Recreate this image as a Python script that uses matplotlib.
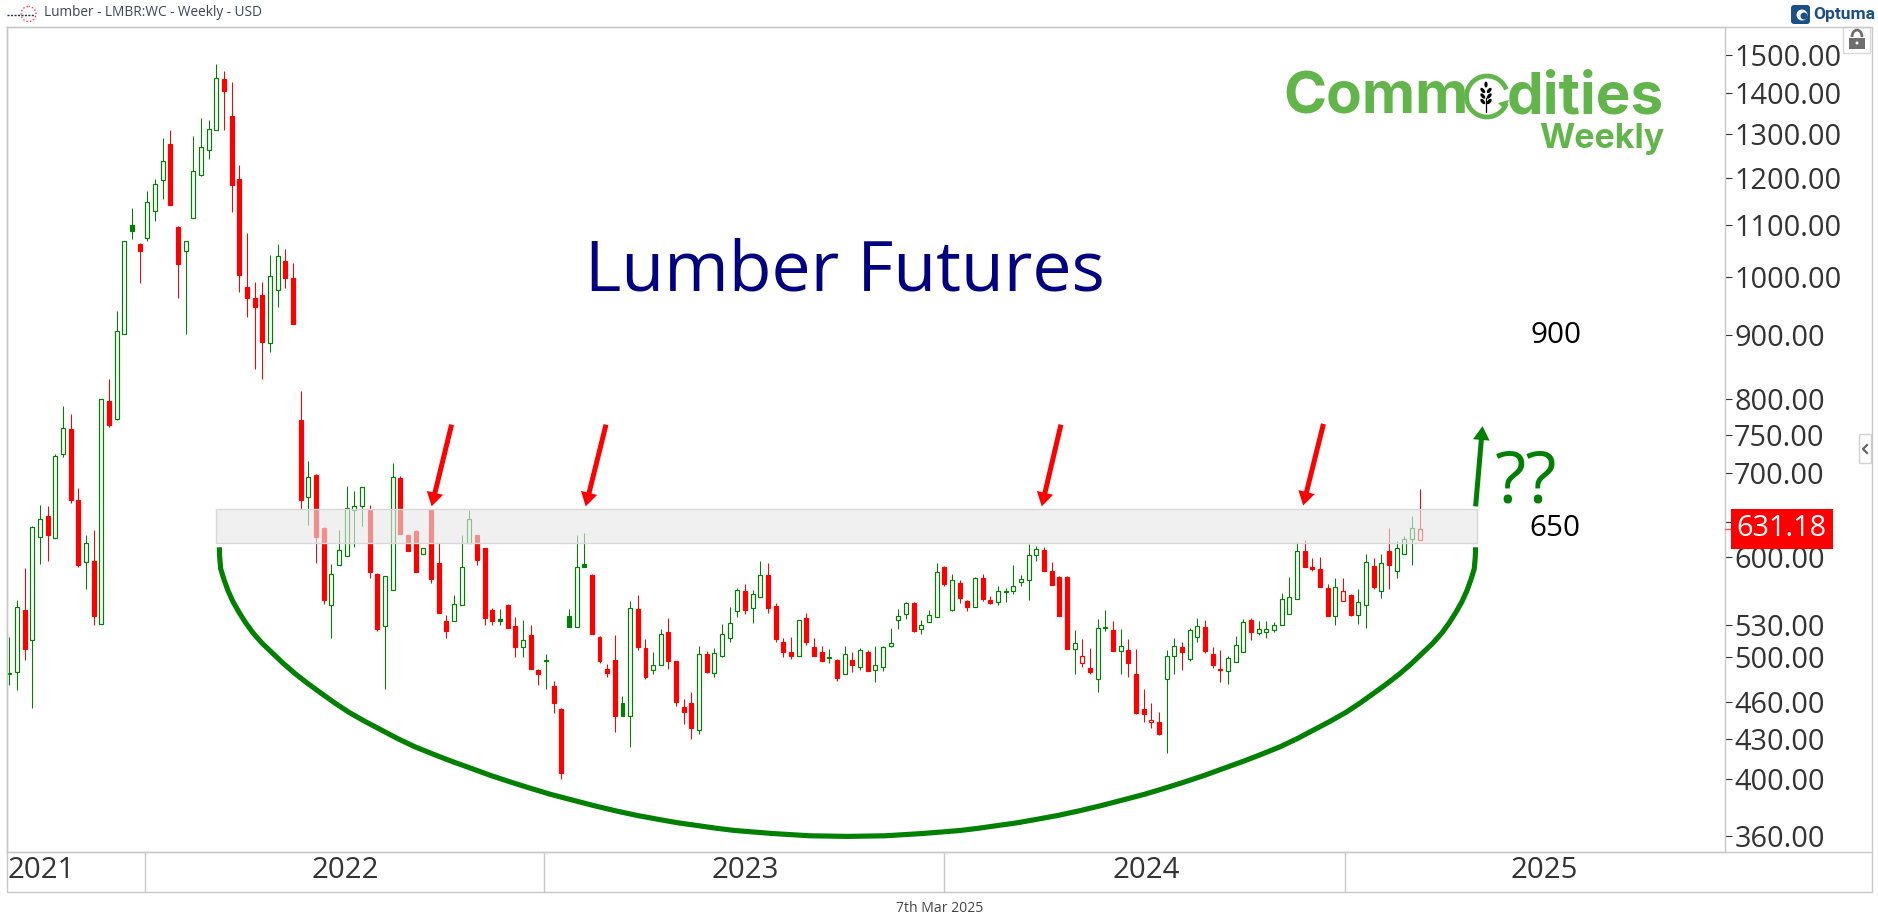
import matplotlib
matplotlib.use("Agg")
import matplotlib.pyplot as plt
from matplotlib.patches import Rectangle, Circle, Ellipse, Arc, FancyBboxPatch, Polygon
from matplotlib.ticker import NullLocator

# ---------- data ----------
candle_style = ("Ggrggrggrr" "grgrggGrgg" "grrgggggrr" "rrrrggrrrg" "rrgggggrrg"
                "grrrgrrrgg" "grrrGrrgrr" "GrrGgGrrrr" "Ggrrggrrrr" "grggggrggr"
                "rrrgrrrGrg" "rgrgggggrg" "ggrgrrgrrg" "Gggggrrrrg" "RrgGrgrrrR"
                "rggrggrrrg" "ggrggggggr" "rrrgRrggrg" "rgggR")

high = [518,555,588,635,660,658,724,790,779,680,
        624,630,801,831,940,1068,1136,1064,1172,1197,
        1289,1310,1099,1068,1294,1337,1332,1478,1459,1430,
        1229,1085,992,992,1041,1062,1054,1026,812,715,
        698,634,592,630,683,677,682,660,583,579,
        712,695,625,630,610,654,615,540,560,625,
        654,625,610,546,545,550,538,535,530,489,
        502,478,455,545,625,627,581,519,493,520,
        465,554,560,516,504,526,537,496,463,469,
        510,505,508,531,547,567,571,565,596,593,
        551,517,518,535,542,517,510,507,498,510,
        504,508,506,510,510,527,545,553,553,535,
        544,593,590,582,575,555,578,581,559,569,
        567,591,580,614,612,611,594,579,579,525,
        516,508,536,544,534,526,516,507,471,459,
        452,506,517,514,527,537,535,509,506,501,
        519,536,537,534,534,533,562,578,617,619,
        599,600,571,577,577,561,566,603,599,603,
        633,618,623,646,679]

body_top = [485,547,544,634,643,647,721,760,758,666,
            615,595,801,798,907,1068,1101,1062,1148,1187,
            1237,1277,1097,1068,1215,1269,1312,1440,1438,1344,
            1197,983,963,969,1003,1039,1031,998,771,694,
            697,633,581,608,656,658,682,654,582,579,
            694,693,624,629,610,654,593,534,550,589,
            643,624,610,544,536,549,529,515,520,488,
            497,474,454,539,589,592,580,518,489,497,
            459,546,545,508,492,521,523,496,456,459,
            502,502,503,521,532,565,564,561,580,580,
            548,514,504,535,537,509,504,500,497,502,
            497,506,504,492,509,513,539,552,551,530,
            540,584,589,575,572,554,577,577,555,564,
            564,569,576,602,609,608,585,578,578,513,
            501,490,527,528,525,510,506,484,454,445,
            444,501,510,509,525,529,528,502,489,499,
            511,533,535,526,526,530,556,558,607,606,
            589,587,567,568,564,560,553,594,590,593,
            606,610,620,633,631.18]

body_bottom = [484,486,507,515,622,624,621,724,666,591,
               594,539,531,764,772,902,1088,1050,1074,1128,
               1195,1142,1024,1049,1114,1205,1263,1309,1407,1183,
               1005,963,948,888,887,978,998,918,666,669,
               622,555,549,591,601,654,659,584,526,529,
               565,626,607,584,603,576,542,524,534,549,
               615,597,537,534,534,527,509,509,489,484,
               496,459,404,528,528,589,521,496,485,449,
               449,449,509,482,488,492,496,460,452,439,
               437,486,485,501,517,543,544,546,558,546,
               516,504,501,501,514,501,496,499,481,484,
               492,491,487,488,491,510,535,541,524,526,
               533,538,571,544,557,547,547,556,552,553,
               563,564,573,575,602,585,570,539,507,507,
               494,486,480,527,505,505,494,451,450,444,
               434,480,501,504,498,518,505,492,488,487,
               495,504,523,522,523,525,530,541,556,589,
               587,568,539,539,554,540,540,549,568,564,
               591,585,603,620,619]

low = [475,470,497,455,592,596,621,720,662,589,
       566,530,531,761,770,902,1073,990,1069,1108,
       1155,1142,963,901,1114,1203,1242,1309,1310,1126,
       974,930,846,830,872,947,980,918,655,636,
       593,550,517,591,601,611,635,577,524,471,
       565,626,607,584,603,572,542,517,534,549,
       615,591,530,530,530,527,500,500,489,475,
       471,451,400,528,528,589,521,494,482,436,
       449,424,506,480,484,492,489,457,442,430,
       434,485,482,500,514,538,541,532,558,542,
       514,500,498,501,511,501,496,494,478,484,
       486,488,487,477,487,509,526,536,523,521,
       533,538,569,543,551,543,547,554,550,549,
       553,561,569,555,596,585,570,539,507,484,
       491,484,469,524,505,484,482,450,444,439,
       433,419,484,488,496,514,503,490,477,476,
       495,504,515,520,517,523,530,541,556,589,
       585,568,539,530,554,539,531,527,566,557,
       566,577,603,591,619]

price_ticks = [1500,1400,1300,1200,1100,1000,900,800,750,700,600,530,500,460,430,400,360]
hidden_tick = 640
last_price = 631.18
year_labels = ["2021","2022","2023","2024","2025"]
year_label_weeks = [4.2,43.8,96.0,148.3,200.3]
year_start_weeks = [17.7,69.7,121.9,174.2]

band_low, band_high = 615.5, 655
bowl_weeks = [27.4,27.45,27.58,28.01,28.53,29.18,29.97,30.82,31.79,32.97,34.4,35.77,37.27,38.97,40.76,42.49,
              44.32,46.4,48.5,50.65,52.93,55.34,57.69,60.3,62.71,65.51,67.93,70.6,73.34,76.21,79.21,81.95,
              84.56,87.17,89.78,92.39,94.67,99.57,104.46,109.35,114.24,119.13,124.03,126.31,128.92,131.53,
              134.14,136.75,139.49,142.49,145.36,148.1,150.77,153.19,155.99,158.4,161.01,163.36,165.77,
              168.05,170.2,172.3,174.38,176.21,177.94,179.73,181.43,182.93,184.3,185.73,186.91,187.88,
              188.73,189.52,190.17,190.69,191.12,191.25,191.3]
bowl_prices = [610.6,599.2,587,575.6,564.1,552.9,542.2,532.1,522.2,512.5,502.8,493.7,484.8,475.9,467.3,459.3,
               451.6,444.2,437.4,430.5,424,418.3,413,407.6,402.6,397.4,393.2,388.8,384.9,380.9,377.1,374,
               371.5,369.1,367.2,365.3,363.9,361.9,360.4,360,360.4,361.9,363.9,365.3,367.2,369.1,
               371.5,374,377.1,380.9,384.9,388.8,393.2,397.4,402.6,407.6,413,418.3,424,
               430.5,437.4,444.2,451.6,459.3,467.3,475.9,484.8,493.7,502.8,512.5,522.2,532.1,
               542.2,552.9,564.1,575.6,587,599.2,610.6]
red_arrow_tails = [(57.7,764),(77.85,764),(137.2,764),(171.45,765)]
red_arrow_tips = [(55.1,658),(75.2,658),(134.7,658),(168.8,659)]
green_arrow = [(191.3,658),(192.2,762)]

W, H = 1878, 924
GREEN, RED = "#008000", "#ff0000"
GRID = "#c8c8c8"
TXT = "#333333"
FONT = "Open Sans"
plt.rcParams["font.family"] = [FONT, "DejaVu Sans"]

fig = plt.figure(figsize=(W/100, H/100), dpi=100, facecolor="white")
L, R, T, B = 6.5, 1724.5, 26.5, 851.5
ax = fig.add_axes([L/W, 1-B/H, (R-L)/W, (B-T)/H])
ax.set_yscale("log")
px = 7.665
ax.set_xlim((L-9.3)/px, (R-9.3)/px)
ax.set_ylim(350.2, 1581.6)

for s in ax.spines.values():
    s.set_color(GRID); s.set_linewidth(1.0)
ax.yaxis.tick_right()
ax.yaxis.set_minor_locator(NullLocator())
ax.set_xticks([])
ax.set_yticks(price_ticks+[hidden_tick])
ax.set_yticklabels([f"{v:.2f}" for v in price_ticks]+[""], fontsize=20.8, color=TXT)
ax.tick_params(axis="y", length=5, width=0.8, color="#333333", pad=2)

# candles
for i, st in enumerate(candle_style):
    col = GREEN if st in "gG" else RED
    ax.vlines(i, low[i], high[i], color=col, lw=0.75, zorder=2)
    face = col if st in "Gr" else "white"
    ax.bar(i, body_top[i]-body_bottom[i], bottom=body_bottom[i], width=0.52,
           facecolor=face, edgecolor=col, linewidth=0.85, zorder=2.2)

# band
x0, x1 = ax.get_xlim()
ax.axhspan(band_low, band_high, xmin=(27.0-x0)/(x1-x0), xmax=(191.5-x0)/(x1-x0),
           facecolor=(231/255,231/255,231/255,0.62), edgecolor="#d8d8d8", linewidth=1.0, zorder=3)

# bowl
ax.plot(bowl_weeks, bowl_prices, color=GREEN, lw=3.7, solid_capstyle="butt", solid_joinstyle="round", zorder=4)

# arrows
arrow_style = "simple,head_length=1.0,head_width=1.2,tail_width=0.36"
for tail, tip in zip(red_arrow_tails, red_arrow_tips):
    ax.annotate("", xy=tip, xytext=tail,
                arrowprops=dict(arrowstyle=arrow_style, mutation_scale=10, color=RED, lw=0,
                                shrinkA=0, shrinkB=0), zorder=5)
ax.annotate("", xy=green_arrow[1], xytext=green_arrow[0],
            arrowprops=dict(arrowstyle=arrow_style, mutation_scale=10, color=GREEN, lw=0,
                            shrinkA=0, shrinkB=0), zorder=5)

# annotations
ax.text(75.1, 1008, "Lumber Futures", fontsize=50.2, color="#000080", va="center", ha="left", zorder=6)
ax.text(198.4, 900, "900", fontsize=21.4, color="black", va="center", ha="left", zorder=6)
ax.text(198.3, 632, "650", fontsize=21.4, color="black", va="center", ha="left", zorder=6)
ax.text(193.8, 686, "??", fontsize=52, color=GREEN, va="center", ha="left", zorder=6)

# ---------- chrome, in pixel coordinates ----------
ov = fig.add_axes([0, 0, 1, 1], zorder=10)
ov.set_xlim(0, W); ov.set_ylim(H, 0); ov.axis("off"); ov.patch.set_alpha(0)

ov.plot([L, 1871.5, 1871.5, L, L], [T, T, 891.5, 891.5, T], color=GRID, lw=1.0, solid_joinstyle="miter")
ov.plot([L, 1871.5], [B, B], color=GRID, lw=1.0)
for wk in year_start_weeks:
    x = 9.3 + wk*px
    ov.plot([x, x], [B, 891.5], color=GRID, lw=1.0)
for lab, wk in zip(year_labels, year_label_weeks):
    ov.text(9.3 + wk*px, 871, lab, fontsize=21.2, color=TXT, ha="center", va="center")

# last price box
ov.add_patch(Rectangle((1731, 509), 102, 39.5, facecolor=RED, edgecolor="none", zorder=3))
ov.text(1781.5, 528.5, f"{last_price:.2f}", fontsize=20.8, color="white", ha="center", va="center", zorder=4)
ov.plot([1725, 1731], [529, 529], color="#f06060", lw=1.0)

# header / footer
ov.text(44, 13, "Lumber - LMBR:WC - Weekly - USD", fontsize=9.85, color="#3a4556", ha="left", va="center")
ov.add_patch(Circle((28.5, 14), 7.5, fill=False, edgecolor="#e8405a", lw=1.0, linestyle=(0, (1, 1.5))))
ov.plot([7, 35], [15, 15], color="#20304a", lw=1.0, linestyle=(0, (1.5, 1)))
ov.text(940, 908, "7th Mar 2025", fontsize=10.1, color="#444444", ha="center", va="center")

# Optuma mark
OPT = "#1b4f8a"
ov.add_patch(FancyBboxPatch((1791, 5), 19, 19, boxstyle="round,pad=0,rounding_size=3", facecolor=OPT, edgecolor="none"))
ov.add_patch(Circle((1802, 15), 5.5, facecolor="white", edgecolor="none"))
ov.add_patch(Circle((1804, 16), 3.5, facecolor=OPT, edgecolor="none"))
ov.text(1813, 15, "Optuma", fontsize=12.5, color=OPT, fontweight="bold", family="Roboto", ha="left", va="center")

# lock button
ov.add_patch(FancyBboxPatch((1843.5, 27.5), 27, 26, boxstyle="round,pad=0,rounding_size=1", facecolor="white", edgecolor="#d8d8d8", lw=1))
ov.add_patch(Rectangle((1849, 38), 16, 11, facecolor="#6e6e6e", edgecolor="none"))
ov.add_patch(Arc((1857, 37), 10, 14, theta1=180, theta2=360, edgecolor="#6e6e6e", lw=2))
ov.add_patch(Circle((1857, 43), 1.5, facecolor="white", edgecolor="none"))
# side tab
ov.add_patch(FancyBboxPatch((1859.5, 434.5), 12, 29, boxstyle="round,pad=0,rounding_size=1", facecolor="white", edgecolor="#d0d0d0", lw=1))
ov.plot([1867, 1863, 1867], [445, 449, 453], color="#666666", lw=1.6)

# Commodities Weekly logo
LOGO = "#62b54a"
LF = "Inter"
ov.text(1283, 114, "Comm", fontsize=42, fontweight="bold", family=LF, color=LOGO, ha="left", va="baseline")
ov.text(1664, 114, "dities", fontsize=42, fontweight="bold", family=LF, color=LOGO, ha="right", va="baseline")
ov.text(1664, 148, "Weekly", fontsize=24.5, fontweight="bold", family=LF, color=LOGO, ha="right", va="baseline")
ov.add_patch(Arc((1487, 96.5), 41, 41, theta1=-340, theta2=-20, edgecolor=LOGO, lw=3.4))
ov.add_patch(Polygon([[1498, 103], [1509, 100], [1505, 110]], closed=True, facecolor=LOGO, edgecolor="none"))
ov.plot([1486, 1486], [98, 112], color="black", lw=0.9)
for yy in (90.5, 96, 101.5):
    for dx, ang in ((-3.2, -40), (3.2, 40)):
        ov.add_patch(Ellipse((1486+dx, yy), 3.4, 6.4, angle=ang, facecolor="black", edgecolor="none"))
ov.add_patch(Ellipse((1486, 84.5), 3.2, 6.0, facecolor="black", edgecolor="none"))

fig.savefig("out.png", dpi=100, facecolor="white")
